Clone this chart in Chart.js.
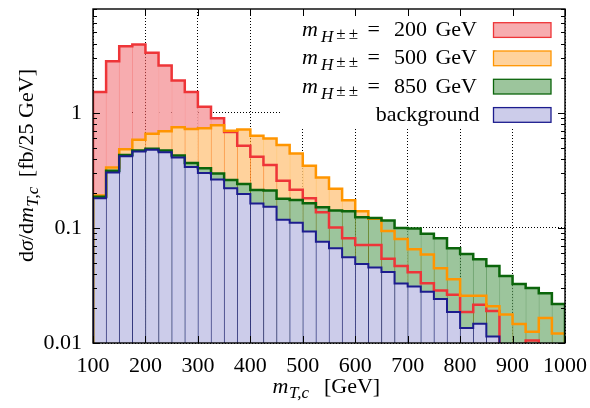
<!DOCTYPE html>
<html><head><meta charset="utf-8">
<script src="https://cdn.jsdelivr.net/npm/chart.js@4.4.0/dist/chart.umd.min.js"></script>
<style>html,body{margin:0;padding:0;background:#fff;}#wrap{width:590px;height:408px;position:relative;}</style>
</head><body><div id="wrap"><canvas id="c" width="590" height="408"></canvas></div>
<script>
// ---- data (bin lower edges in GeV, values in fb/25 GeV) ----
const binLow = [100,125,150,175,200,225,250,275,300,325,350,375,400,425,450,475,500,525,550,575,600,625,650,675,700,725,750,775,800,825,850,875,900,925,950,975];
const BIN_WIDTH = 25;
const sig200 = [1.52,2.81,3.79,3.94,3.34,2.58,1.91,1.52,1.13,0.90,0.684,0.518,0.415,0.352,0.257,0.215,0.181,0.137,0.101,0.0814,0.071,0.071,0.054,0.0466,0.0413,0.0331,0.0286,0.0262,0.0186,0.0215,0.0190,0.008,0.008,0.0105,0.007,0.007];
const sig500 = [0.191,0.336,0.484,0.583,0.658,0.694,0.751,0.726,0.736,0.782,0.698,0.717,0.632,0.600,0.525,0.443,0.348,0.274,0.219,0.174,0.140,0.120,0.094,0.080,0.0654,0.0587,0.0447,0.0359,0.0257,0.0257,0.0209,0.0177,0.0146,0.0125,0.0165,0.0121];
const sig850 = [0.187,0.314,0.430,0.472,0.487,0.472,0.427,0.366,0.330,0.298,0.261,0.241,0.214,0.212,0.179,0.175,0.164,0.151,0.142,0.140,0.124,0.122,0.116,0.100,0.099,0.089,0.0814,0.0667,0.0595,0.0535,0.0468,0.0383,0.0325,0.0300,0.0271,0.0218];
const background = [0.181,0.304,0.421,0.463,0.478,0.456,0.410,0.338,0.300,0.264,0.221,0.197,0.163,0.153,0.118,0.111,0.093,0.076,0.0667,0.0557,0.0485,0.0453,0.0415,0.0329,0.0310,0.0279,0.0241,0.0186,0.0135,0.0147,0.0114,0.008,0.007,0.007,0.006,0.006];
const xTicks = [100,200,300,400,500,600,700,800,900,1000];
const yTicks = [0.01,0.1,1];
const Y_MIN = 0.01, Y_MAX = 8, X_MIN = 100, X_MAX = 1000;
const massLabels = ['200','500','850'];
const unitLabel = 'GeV';
const bgLabel = 'background';

// ---- styles ----
const FAMILY = '"Liberation Serif", "Times New Roman", serif';
const styles = [
  {fill:'#f7acaf', line:'#ee3538', edge:'rgba(238,53,56,0.5)', lw:2.5},
  {fill:'#ffd29c', line:'#ff9500', edge:'rgba(255,149,0,0.55)', lw:2.5},
  {fill:'#9cc59c', line:'#0b650b', edge:'rgba(11,101,11,0.55)', lw:2.5},
  {fill:'#ccccea', line:'#1c1c8e', edge:'rgba(28,28,142,0.75)', lw:2}
];
const allSeries = [sig200, sig500, sig850, background];

function barData(vals){ return binLow.map((x,i)=>({x:x+BIN_WIDTH/2, y: vals[i] >= Y_MIN ? vals[i] : null})); }
function stepData(vals){
  const pts = [{x:binLow[0], y:Y_MIN}];
  binLow.forEach((x,i)=>pts.push({x:x, y:vals[i]}));
  pts.push({x:binLow[binLow.length-1]+BIN_WIDTH, y:Y_MIN});
  return pts;
}

const datasets = [];
allSeries.forEach((vals,k)=>{
  const s = styles[k];
  datasets.push({type:'bar', data:barData(vals), backgroundColor:s.fill, borderColor:s.edge,
    borderWidth:{left:1,right:0,top:0,bottom:0}, borderSkipped:false, grouped:false,
    barPercentage:1, categoryPercentage:1, order: 7-k});
});
allSeries.forEach((vals,k)=>{
  const s = styles[k];
  datasets.push({type:'line', data:stepData(vals), borderColor:s.line, borderWidth:s.lw, stepped:'before',
    fill:false, pointRadius:0, pointHoverRadius:0, borderJoinStyle:'miter', borderCapStyle:'butt', order: 3-k});
});

function fnt(size, italic){ return (italic?'italic ':'') + size + 'px ' + FAMILY; }
function put(ctx, s, x, y, size, italic, align){
  ctx.font = fnt(size, italic); ctx.textAlign = align || 'left'; ctx.textBaseline = 'alphabetic';
  ctx.fillText(s, x, y); return ctx.measureText(s).width;
}

const decor = {
  id:'decor',
  beforeDatasetsDraw(chart){
    const {ctx, chartArea:a} = chart;
    ctx.save(); ctx.fillStyle = '#fff';
    ctx.fillRect(281, a.top, a.right-281, 127-a.top);
    ctx.restore();
  },
  afterDraw(chart){
    const {ctx, chartArea:a, scales:{x, y}} = chart;
    ctx.save();
    ctx.fillStyle = '#000'; ctx.strokeStyle = '#000';
    // ticks
    ctx.beginPath();
    xTicks.forEach(v=>{
      const px = Math.round(x.getPixelForValue(v)) + 0.5;
      ctx.moveTo(px, a.bottom); ctx.lineTo(px, a.bottom-7);
      ctx.moveTo(px, a.top); ctx.lineTo(px, a.top+7);
    });
    yTicks.forEach(d=>{
      for (let m=1; m<=9; m++){
        const v = d*m; if (v > Y_MAX + 1e-9) break;
        const py = Math.round(y.getPixelForValue(v)) + 0.5;
        const L = m===1 ? 7 : 4;
        ctx.moveTo(a.left, py); ctx.lineTo(a.left+L, py);
        ctx.moveTo(a.right, py); ctx.lineTo(a.right-L, py);
      }
    });
    ctx.lineWidth = 1; ctx.stroke();
    // frame
    ctx.lineWidth = 1.4;
    ctx.strokeRect(a.left, a.top, a.right-a.left, a.bottom-a.top);

    // legend
    for (let i=0;i<4;i++){
      const yb = 36 + i*28.3;
      const s = styles[i];
      if (i < 3){
        put(ctx, 'm', 302, yb, 22, true);
        put(ctx, 'H', 321, yb+6, 17, true);
        put(ctx, '±', 341, yb+3, 17, false, 'center');
        put(ctx, '±', 353.5, yb+3, 17, false, 'center');
        put(ctx, '=', 373.7, yb, 22, false, 'center');
        put(ctx, massLabels[i], 394, yb, 22, false, 'left');
        put(ctx, unitLabel, 477, yb, 22, false, 'right');
      } else {
        put(ctx, bgLabel, 479.5, yb, 22, false, 'right');
      }
      ctx.fillStyle = s.fill;
      ctx.fillRect(493.5, yb-13.3, 57.5, 14.7);
      ctx.strokeStyle = s.line; ctx.lineWidth = 1.3;
      ctx.strokeRect(493.5, yb-13.3, 57.5, 14.7);
      ctx.fillStyle = '#000';
    }

    // x title
    put(ctx, 'm', 272.5, 393, 22, true);
    put(ctx, 'T,c', 289, 398, 17, true);
    put(ctx, '[GeV]', 324, 393, 22, false);

    // y title (rotated)
    ctx.translate(33, 262);
    ctx.rotate(-Math.PI/2);
    let u = 0;
    u += put(ctx, 'd', u, 0, 22, false);
    u += put(ctx, 'σ', u, 0, 22, true);
    u += put(ctx, '/', u, 0, 22, false);
    u += put(ctx, 'd', u, 0, 22, false);
    u += put(ctx, 'm', u, 0, 22, true);
    u += put(ctx, 'T,c', u+0.5, 5, 17, true);
    put(ctx, '[fb/25 GeV]', u + 10, 0, 22, false);
    ctx.restore();
  }
};

new Chart(document.getElementById('c'), {
  type:'bar',
  data:{datasets},
  options:{
    responsive:false, animation:false, devicePixelRatio:1,
    layout:{padding:{left:0,right:25,top:9,bottom:0}},
    plugins:{legend:{display:false}, tooltip:{enabled:false}},
    scales:{
      x:{type:'linear', min:X_MIN, max:X_MAX, offset:false,
        grid:{color:'#000', lineWidth:1, drawTicks:false, offset:false},
        border:{display:false, dash:[1,2]},
        ticks:{color:'#000', font:{family:FAMILY, size:22}, padding:10, maxRotation:0, autoSkip:false,
          callback:(v)=> String(v)},
        afterBuildTicks(s){ s.ticks = xTicks.map(v=>({value:v})); },
        afterFit(s){ s.height = 65; s.paddingLeft = 0; s.paddingRight = 0; }
      },
      y:{type:'logarithmic', min:Y_MIN, max:Y_MAX,
        grid:{color:'#000', lineWidth:1, drawTicks:false},
        border:{display:false, dash:[1,2]},
        ticks:{color:'#000', font:{family:FAMILY, size:22}, padding:11, autoSkip:false,
          callback:(v)=> yTicks.includes(v) ? String(v) : ''},
        afterBuildTicks(s){ s.ticks = yTicks.map(v=>({value:v})); },
        afterFit(s){ s.width = 93; s.paddingTop = 0; s.paddingBottom = 0; }
      }
    }
  },
  plugins:[decor]
});
</script></body></html>
